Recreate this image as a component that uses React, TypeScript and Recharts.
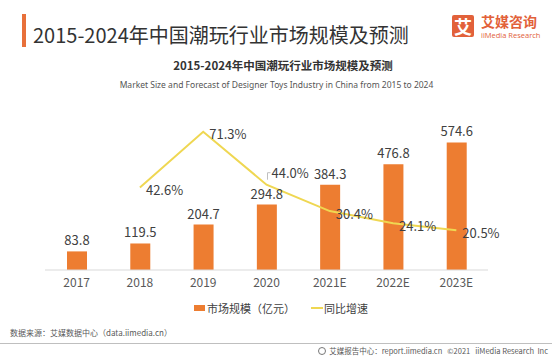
import React from 'react'
import { ComposedChart, Bar, Line, XAxis, YAxis, LabelList, Legend } from 'recharts'

const years = ['2017', '2018', '2019', '2020', '2021E', '2022E', '2023E']
const marketSize = [83.8, 119.5, 204.7, 294.8, 384.3, 476.8, 574.6]
const growth = [null, 42.6, 71.3, 44.0, 30.4, 24.1, 20.5]

const ORANGE = '#ED7D31'
const YELLOW = '#EFD752'
const FONT = "'Noto Sans CJK SC', 'Noto Sans', sans-serif"

const data = years.map((y, i) => ({ year: y, size: marketSize[i], rate: growth[i] }))

const GrowthLabel = (props: any) => {
  const { x, y, value, index } = props
  if (value == null) return null
  const up = index === 3
  const text = `${Number(value).toFixed(1)}%`
  if (up) {
    // 2020 label sits above the point with a small leader line
    return (
      <g>
        <path d={`M${x + 1},${y - 5} V${y - 12} H${x + 4}`} stroke="#BFBFBF" strokeWidth={1} fill="none" />
        <text x={x + 5} y={y - 12} dominantBaseline="central" fontSize={13} fill="#404040" fontFamily={FONT}>
          {text}
        </text>
      </g>
    )
  }
  return (
    <text x={x + 6} y={y + 2} dominantBaseline="central" fontSize={13} fill="#404040" fontFamily={FONT}>
      {text}
    </text>
  )
}

const LegendContent = () => (
  <div style={{ display: 'flex', alignItems: 'center', fontSize: 11, color: '#404040', fontFamily: FONT }}>
    <span style={{ width: 11, height: 6, background: ORANGE, display: 'inline-block', marginRight: 2 }} />
    <span>市场规模（亿元）</span>
    <span style={{ width: 12, height: 2, background: YELLOW, display: 'inline-block', marginLeft: 16, marginRight: 1 }} />
    <span>同比增速</span>
  </div>
)

export default function App() {
  return (
    <div style={{ position: 'absolute', left: 0, top: 0, width: 552, height: 357, background: '#fff', fontFamily: FONT, overflow: 'hidden' }}>
      <div style={{ position: 'absolute', left: 22, top: 14, width: 4, height: 33, background: '#E8703A' }} />
      <div style={{ position: 'absolute', left: 33, top: 21, fontSize: 20, lineHeight: '28px', color: '#333' }}>
        2015-2024年中国潮玩行业市场规模及预测
      </div>
      <div style={{ position: 'absolute', left: 452, top: 15, width: 22, height: 22, background: '#E2613A', color: '#fff', fontSize: 18, fontWeight: 700, lineHeight: '22px', textAlign: 'center', borderRadius: 2 }}>
        艾
      </div>
      <div style={{ position: 'absolute', left: 481, top: 12, fontSize: 14, lineHeight: '18px', color: '#E2613A', fontWeight: 700 }}>艾媒咨询</div>
      <div style={{ position: 'absolute', left: 481, top: 31, fontSize: 7.5, lineHeight: '9px', color: '#E2613A', fontFamily: "'Open Sans', sans-serif" }}>
        iiMedia Research
      </div>
      <div style={{ position: 'absolute', left: 0, width: 566, top: 57, textAlign: 'center', fontSize: 11.5, fontWeight: 700, color: '#333', lineHeight: '16px' }}>
        2015-2024年中国潮玩行业市场规模及预测
      </div>
      <div style={{ position: 'absolute', left: 0, width: 553, top: 79, textAlign: 'center', fontSize: 8.5, color: '#555', lineHeight: '12px', fontFamily: "'Noto Sans', sans-serif" }}>
        Market Size and Forecast of Designer Toys Industry in China from 2015 to 2024
      </div>

      <div style={{ position: 'absolute', left: 0, top: 0 }}>
        <ComposedChart width={552} height={357} data={data} margin={{ top: 80, right: 64, bottom: 57, left: 45 }}>
          <XAxis
            dataKey="year"
            axisLine={{ stroke: '#D9D9D9' }}
            tickLine={false}
            tick={{ fill: '#595959', fontSize: 12, fontFamily: FONT }}
            height={30}
          />
          <YAxis yAxisId="left" hide domain={[0, 856]} />
          <YAxis yAxisId="right" hide orientation="right" domain={[0, 98]} />
          <Legend
            verticalAlign="middle"
            align="center"
            content={<LegendContent />}
            wrapperStyle={{ top: 300, left: 194, width: 'auto' }}
          />
          <Bar yAxisId="left" dataKey="size" name="市场规模（亿元）" fill={ORANGE} barSize={20} isAnimationActive={false}>
            <LabelList
              dataKey="size"
              position="top"
              offset={6}
              fill="#404040"
              fontSize={13}
              fontFamily={FONT}
              formatter={(v: any) => Number(v).toFixed(1)}
            />
          </Bar>
          <Line
            yAxisId="right"
            dataKey="rate"
            name="同比增速"
            type="linear"
            stroke={YELLOW}
            strokeWidth={2}
            dot={false}
            activeDot={false}
            isAnimationActive={false}
          >
            <LabelList dataKey="rate" content={<GrowthLabel />} />
          </Line>
        </ComposedChart>
      </div>

      <div style={{ position: 'absolute', left: 10, top: 327, fontSize: 8, color: '#595959', lineHeight: '12px' }}>
        数据来源：艾媒数据中心（data.iimedia.cn）
      </div>
      <div style={{ position: 'absolute', left: 0, top: 343, width: 552, height: 1, background: '#BFBFBF' }} />
      <div style={{ position: 'absolute', right: 4, top: 345, fontSize: 7.5, color: '#595959', lineHeight: '11px', display: 'flex', alignItems: 'center' }}>
        <span style={{ width: 6, height: 6, borderRadius: '50%', border: '1px solid #777', display: 'inline-block', marginRight: 3 }} />
        艾媒报告中心：report.iimedia.cn&nbsp;&nbsp;&nbsp;©2021&nbsp;&nbsp;&nbsp;iiMedia Research&nbsp;&nbsp;Inc
      </div>
    </div>
  )
}
